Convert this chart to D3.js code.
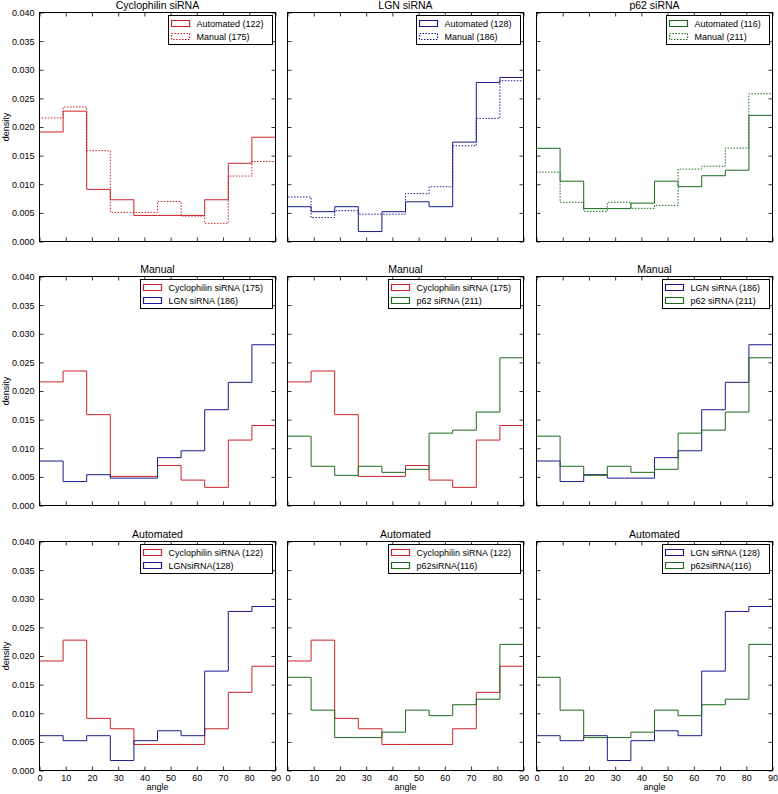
<!DOCTYPE html>
<html>
<head>
<meta charset="utf-8">
<script src="https://cdn.jsdelivr.net/npm/d3@7"></script>
<style>
  html, body { margin: 0; padding: 0; background: #fff; }
  svg { display: block; font-family: "Liberation Sans", Arial, Helvetica, sans-serif; }
</style>
</head>
<body>
<svg id="chart" width="778" height="794"></svg>
<script>
// ---- data ----
const binEdges = [0, 9, 18, 27, 36, 45, 54, 63, 72, 81, 90];
const xTicks = [0, 10, 20, 30, 40, 50, 60, 70, 80, 90];
const yTicks = [0, 0.005, 0.01, 0.015, 0.02, 0.025, 0.03, 0.035, 0.04];

const cycloAuto   = [0.01913, 0.02277, 0.00911, 0.00729, 0.00455, 0.00455, 0.00455, 0.00729, 0.01366, 0.01821];
const cycloManual = [0.02159, 0.02349, 0.01587, 0.00508, 0.00508, 0.00698, 0.00444, 0.00317, 0.01143, 0.01397];
const lgnAuto     = [0.00608, 0.00521, 0.00608, 0.00174, 0.00521, 0.00694, 0.00608, 0.01736, 0.02778, 0.02865];
const lgnManual   = [0.00777, 0.00418, 0.00538, 0.00478, 0.00478, 0.00836, 0.00956, 0.01673, 0.02151, 0.02808];
const p62Auto     = [0.01628, 0.01054, 0.00575, 0.00575, 0.00670, 0.01054, 0.00958, 0.01149, 0.01245, 0.02203];
const p62Manual   = [0.01211, 0.00685, 0.00527, 0.00685, 0.00579, 0.00632, 0.01264, 0.01316, 0.01632, 0.02580];

const rowTitles = [null, "Manual", "Automated"];
const topTitles = ["Cyclophilin siRNA", "LGN siRNA", "p62 siRNA"];

const RED = "#cc2228", BLUE = "#1a1a8e", GREEN = "#1b6b1b";

const panels = [
  // row 1
  { title: topTitles[0], series: [
    { values: cycloAuto, color: RED, dash: null, label: "Automated (122)" },
    { values: cycloManual, color: RED, dash: "1.5,1.5", label: "Manual (175)" } ] },
  { title: topTitles[1], series: [
    { values: lgnAuto, color: BLUE, dash: null, label: "Automated (128)" },
    { values: lgnManual, color: BLUE, dash: "1.5,1.5", label: "Manual (186)" } ] },
  { title: topTitles[2], series: [
    { values: p62Auto, color: GREEN, dash: null, label: "Automated (116)" },
    { values: p62Manual, color: GREEN, dash: "1.5,1.5", label: "Manual (211)" } ] },
  // row 2
  { title: rowTitles[1], series: [
    { values: cycloManual, color: RED, dash: null, label: "Cyclophilin siRNA (175)" },
    { values: lgnManual, color: BLUE, dash: null, label: "LGN siRNA (186)" } ] },
  { title: rowTitles[1], series: [
    { values: cycloManual, color: RED, dash: null, label: "Cyclophilin siRNA (175)" },
    { values: p62Manual, color: GREEN, dash: null, label: "p62 siRNA (211)" } ] },
  { title: rowTitles[1], series: [
    { values: lgnManual, color: BLUE, dash: null, label: "LGN siRNA (186)" },
    { values: p62Manual, color: GREEN, dash: null, label: "p62 siRNA (211)" } ] },
  // row 3
  { title: rowTitles[2], series: [
    { values: cycloAuto, color: RED, dash: null, label: "Cyclophilin siRNA (122)" },
    { values: lgnAuto, color: BLUE, dash: null, label: "LGNsiRNA(128)" } ] },
  { title: rowTitles[2], series: [
    { values: cycloAuto, color: RED, dash: null, label: "Cyclophilin siRNA (122)" },
    { values: p62Auto, color: GREEN, dash: null, label: "p62siRNA(116)" } ] },
  { title: rowTitles[2], series: [
    { values: lgnAuto, color: BLUE, dash: null, label: "LGN siRNA (128)" },
    { values: p62Auto, color: GREEN, dash: null, label: "p62siRNA(116)" } ] }
];

// ---- layout ----
const colX = [39, 287, 536];
const rowY = [12, 276, 541];
const PW = 236, PH = 229;

const svg = d3.select("#chart");
const x = d3.scaleLinear().domain([0, 90]).range([0, PW]);
const y = d3.scaleLinear().domain([0, 0.04]).range([PH, 0]);

const line = d3.line().x(d => x(d[0])).y(d => y(d[1])).curve(d3.curveStepAfter);

panels.forEach((p, i) => {
  const r = Math.floor(i / 3), c = i % 3;
  const g = svg.append("g").attr("transform", `translate(${colX[c] + 0.5},${rowY[r] + 0.5})`);
  const cid = "clip" + i;
  g.append("clipPath").attr("id", cid).append("rect").attr("width", PW).attr("height", PH);

  // series
  const sg = g.append("g").attr("clip-path", `url(#${cid})`);
  p.series.forEach(s => {
    const pts = [[binEdges[0], 0]];
    s.values.forEach((v, k) => pts.push([binEdges[k], v]));
    pts.push([binEdges[binEdges.length - 1], s.values[s.values.length - 1]]);
    pts.push([binEdges[binEdges.length - 1], 0]);
    sg.append("path").attr("d", line(pts))
      .attr("fill", "none").attr("stroke", s.color).attr("stroke-width", 1)
      .attr("stroke-dasharray", s.dash);
  });

  // ticks (inward, all four sides)
  const tk = 4;
  g.append("g").call(d3.axisLeft(y).tickValues(yTicks).tickSizeInner(-tk).tickSizeOuter(0).tickFormat(""))
    .call(a => a.select(".domain").remove());
  g.append("g").attr("transform", `translate(${PW},0)`)
    .call(d3.axisRight(y).tickValues(yTicks).tickSizeInner(-tk).tickSizeOuter(0).tickFormat(""))
    .call(a => a.select(".domain").remove());
  g.append("g").attr("transform", `translate(0,${PH})`)
    .call(d3.axisBottom(x).tickValues(xTicks).tickSizeInner(-tk).tickSizeOuter(0).tickFormat(""))
    .call(a => a.select(".domain").remove());
  g.append("g")
    .call(d3.axisTop(x).tickValues(xTicks).tickSizeInner(-tk).tickSizeOuter(0).tickFormat(""))
    .call(a => a.select(".domain").remove());
  g.selectAll(".tick line").attr("stroke", "#000").attr("stroke-width", 0.8);

  // tick labels
  if (c === 0) {
    g.append("g").call(d3.axisLeft(y).tickValues(yTicks).tickSize(0).tickPadding(5).tickFormat(d3.format(".3f")))
      .call(a => a.select(".domain").remove())
      .selectAll("text").attr("font-size", 9).attr("fill", "#000").attr("font-family", null);
    g.append("text").attr("transform", `translate(${-31},${PH / 2}) rotate(-90)`)
      .attr("text-anchor", "middle").attr("font-size", 9).attr("fill", "#000").text("density");
  }
  if (r === 2) {
    g.append("g").attr("transform", `translate(0,${PH})`)
      .call(d3.axisBottom(x).tickValues(xTicks).tickSize(0).tickPadding(4))
      .call(a => a.select(".domain").remove())
      .selectAll("text").attr("font-size", 9).attr("fill", "#000").attr("font-family", null);
    g.append("text").attr("x", PW / 2).attr("y", PH + 19)
      .attr("text-anchor", "middle").attr("font-size", 9).attr("fill", "#000").text("angle");
  }

  // frame
  g.append("rect").attr("width", PW).attr("height", PH)
    .attr("fill", "none").attr("stroke", "#000").attr("stroke-width", 1);

  // title
  g.append("text").attr("x", PW / 2).attr("y", -3.5).attr("text-anchor", "middle")
    .attr("font-size", 10.5).attr("fill", "#000").text(p.title);

  // legend
  const lg = g.append("g");
  const box = lg.append("rect");
  let maxW = 0;
  const rowsY = [8, 21];
  p.series.forEach((s, k) => {
    lg.append("path")
      .attr("d", `M3,${rowsY[k] - 3}H21V${rowsY[k] + 3}H3Z`)
      .attr("fill", "none").style("stroke", s.color).style("stroke-width", "1.2px")
      .style("stroke-dasharray", s.dash ? s.dash : "none");
    const t = lg.append("text").attr("x", 28).attr("y", rowsY[k] + 3.2)
      .attr("font-size", 9).attr("fill", "#000").text(s.label);
    maxW = Math.max(maxW, t.node().getComputedTextLength());
  });
  const bw = Math.round(28 + maxW + 9);
  box.attr("width", bw).attr("height", 29).attr("fill", "#fff")
    .attr("stroke", "#000").attr("stroke-width", 1);
  lg.attr("transform", `translate(${PW - 3 - bw},3)`);
});
</script>
</body>
</html>
